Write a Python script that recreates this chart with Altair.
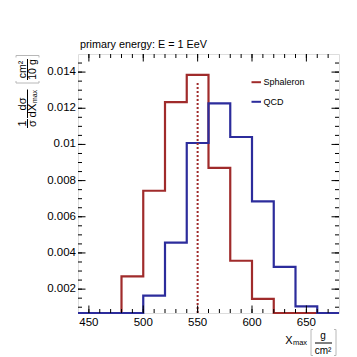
import altair as alt
import pandas as pd

# ---- data ----
bin_edges = [440, 460, 480, 500, 520, 540, 560, 580, 600, 620, 640, 660, 680]
sphaleron = [0, 0, 0.00271, 0.00744, 0.01234, 0.01385, 0.0087, 0.00357, 0.00146, 0, 0, 0]
qcd = [0, 0, 0, 0.00164, 0.00457, 0.01008, 0.01227, 0.01041, 0.00685, 0.00323, 0.00105, 0]
series_names = ["Sphaleron", "QCD"]
mean_line_x = [550]
mean_line_top = [0.01348]

x_tick_values = [450, 500, 550, 600, 650]
x_tick_labels = ["450", "500", "550", "600", "650"]
x_minor_values = [450, 460, 470, 480, 490, 500, 510, 520, 530, 540, 550, 560, 570,
                  580, 590, 600, 610, 620, 630, 640, 650, 660, 670]
y_tick_values = [0.002, 0.004, 0.006, 0.008, 0.01, 0.012, 0.014]
y_tick_labels = ["0.002", "0.004", "0.006", "0.008", "0.01", "0.012", "0.014"]
y_minor_values = [0.001, 0.0015, 0.002, 0.0025, 0.003, 0.0035, 0.004, 0.0045, 0.005,
                  0.0055, 0.006, 0.0065, 0.007, 0.0075, 0.008, 0.0085, 0.009, 0.0095,
                  0.01, 0.0105, 0.011, 0.0115, 0.012, 0.0125, 0.013, 0.0135, 0.014, 0.0145]

title_text = "primary energy: E = 1 EeV"

# ---- layout ----
W, H = 261, 259
FONT = "Liberation Sans"
RED = "#a02b2b"
BLUE = "#2c2c9c"
MAJ, MIN = 7.5, 4

xs = alt.Scale(domain=[440, 680], nice=False, zero=False)
ys = alt.Scale(domain=[0.00068, 0.0150], nice=False, zero=False, clamp=True)


def X(f="v"):
    return alt.X(f + ":Q", scale=xs, axis=None)


def Y(f="v"):
    return alt.Y(f + ":Q", scale=ys, axis=None)


def hist(vals, color):
    df = pd.DataFrame({"x": bin_edges, "y": vals + [vals[-1]]})
    return alt.Chart(df).mark_line(interpolate="step-after", color=color,
                                   strokeWidth=2.2).encode(x=X("x"), y=Y("y"))


def txt(s, x, y, size, angle=0, align="center", baseline="middle"):
    return alt.Chart(alt.Data(values=[{"t": s}])).mark_text(
        font=FONT, fontSize=size, angle=angle, align=align, baseline=baseline,
        color="black").encode(text="t:N", x=alt.value(x), y=alt.value(y))


def seg(x1, y1, x2, y2, color="#b8b8b8", w=1):
    return alt.Chart(alt.Data(values=[{"a": 0}])).mark_rule(
        color=color, strokeWidth=w).encode(
        x=alt.value(x1), y=alt.value(y1), x2=alt.value(x2), y2=alt.value(y2))


layers = []

# histograms
layers.append(hist(sphaleron, RED))
layers.append(hist(qcd, BLUE))

# mean line
mdf = pd.DataFrame({"x": mean_line_x, "y0": [0.0] * len(mean_line_x), "y1": mean_line_top})
layers.append(alt.Chart(mdf).mark_rule(color=RED, strokeWidth=2, strokeDash=[2, 2]).encode(
    x=X("x"), y=Y("y0"), y2="y1:Q"))

# ticks (inward, on all four sides)
xmaj = pd.DataFrame({"v": x_tick_values})
xmin = pd.DataFrame({"v": x_minor_values})
ymaj = pd.DataFrame({"v": y_tick_values})
ymin = pd.DataFrame({"v": y_minor_values})
for df, L in ((xmaj, MAJ), (xmin, MIN)):
    layers.append(alt.Chart(df).mark_rule(color="black", strokeWidth=1).encode(
        x=X(), y=alt.value(H), y2=alt.value(H - L)))
    layers.append(alt.Chart(df).mark_rule(color="black", strokeWidth=1).encode(
        x=X(), y=alt.value(0), y2=alt.value(L)))
for df, L in ((ymaj, MAJ), (ymin, MIN)):
    layers.append(alt.Chart(df).mark_rule(color="black", strokeWidth=1).encode(
        y=Y(), x=alt.value(0), x2=alt.value(L)))
    layers.append(alt.Chart(df).mark_rule(color="black", strokeWidth=1).encode(
        y=Y(), x=alt.value(W), x2=alt.value(W - L)))

# tick labels
xl = pd.DataFrame({"v": x_tick_values, "t": x_tick_labels})
layers.append(alt.Chart(xl).mark_text(font=FONT, fontSize=11.5, baseline="top",
                                      align="center", color="black").encode(
    x=X(), y=alt.value(H + 4), text="t:N"))
yl = pd.DataFrame({"v": y_tick_values, "t": y_tick_labels})
layers.append(alt.Chart(yl).mark_text(font=FONT, fontSize=11.5, baseline="middle",
                                      align="right", color="black").encode(
    y=Y(), x=alt.value(-2), text="t:N"))

# title
layers.append(txt(title_text, 2, -6.5, 10.8, align="left", baseline="alphabetic"))

# legend
leg_y = [28.2, 47.8]
for name, col, ly in zip(series_names, [RED, BLUE], leg_y):
    layers.append(seg(173.5, ly, 183, ly, color=col, w=2))
    layers.append(txt(name, 185.5, ly, 9, align="left"))

# y-axis title: 1/σ dσ/dX_max [cm²/10 g]
NX, DX, BX = -55, -45.5, -50.5
layers.append(txt("1", NX, 69.5, 11, angle=270))
layers.append(txt("σ", DX, 69.5, 11, angle=270))
layers.append(seg(BX, 65, BX, 74, color="black"))
layers.append(txt("dσ", NX, 50, 11, angle=270))
layers.append(txt("dX", DX, 56.5, 11.5, angle=270))
layers.append(txt("max", DX + 2.5, 42.5, 7, angle=270))
layers.append(seg(BX, 35.5, BX, 64, color="black"))
layers.append(txt("cm²", NX, 15.5, 10.5, angle=270))
layers.append(txt("10 g", DX, 15.5, 10.5, angle=270))
layers.append(seg(BX, 5, BX, 26, color="black"))
# brackets
layers.append(seg(-62, 29, -39, 29))
layers.append(seg(-62, 29, -62, 27))
layers.append(seg(-39, 29, -39, 27))
layers.append(seg(-62, 1.5, -39, 1.5))
layers.append(seg(-62, 1.5, -62, 3.5))
layers.append(seg(-39, 1.5, -39, 3.5))

# x-axis title: X_max [g/cm²]
layers.append(txt("X", 210.8, 286.5, 11))
layers.append(txt("max", 222, 289, 7.5))
layers.append(txt("g", 245, 281.5, 10))
layers.append(seg(237, 289, 254, 289, color="black"))
layers.append(txt("cm²", 245, 296.5, 10))
layers.append(seg(233, 275.5, 233, 301.5))
layers.append(seg(233, 275.5, 235, 275.5))
layers.append(seg(233, 301.5, 235, 301.5))
layers.append(seg(258, 275.5, 258, 301.5))
layers.append(seg(258, 275.5, 256, 275.5))
layers.append(seg(258, 301.5, 256, 301.5))

chart = alt.layer(*layers).properties(
    width=W, height=H,
    autosize=alt.AutoSizeParams(type="none"),
    padding={"left": 70, "top": 46, "right": 10, "bottom": 44},
).configure_view(stroke="black", strokeWidth=1).configure(background="white")

chart.save("out.html", embed_options={"renderer": "svg", "actions": False})
